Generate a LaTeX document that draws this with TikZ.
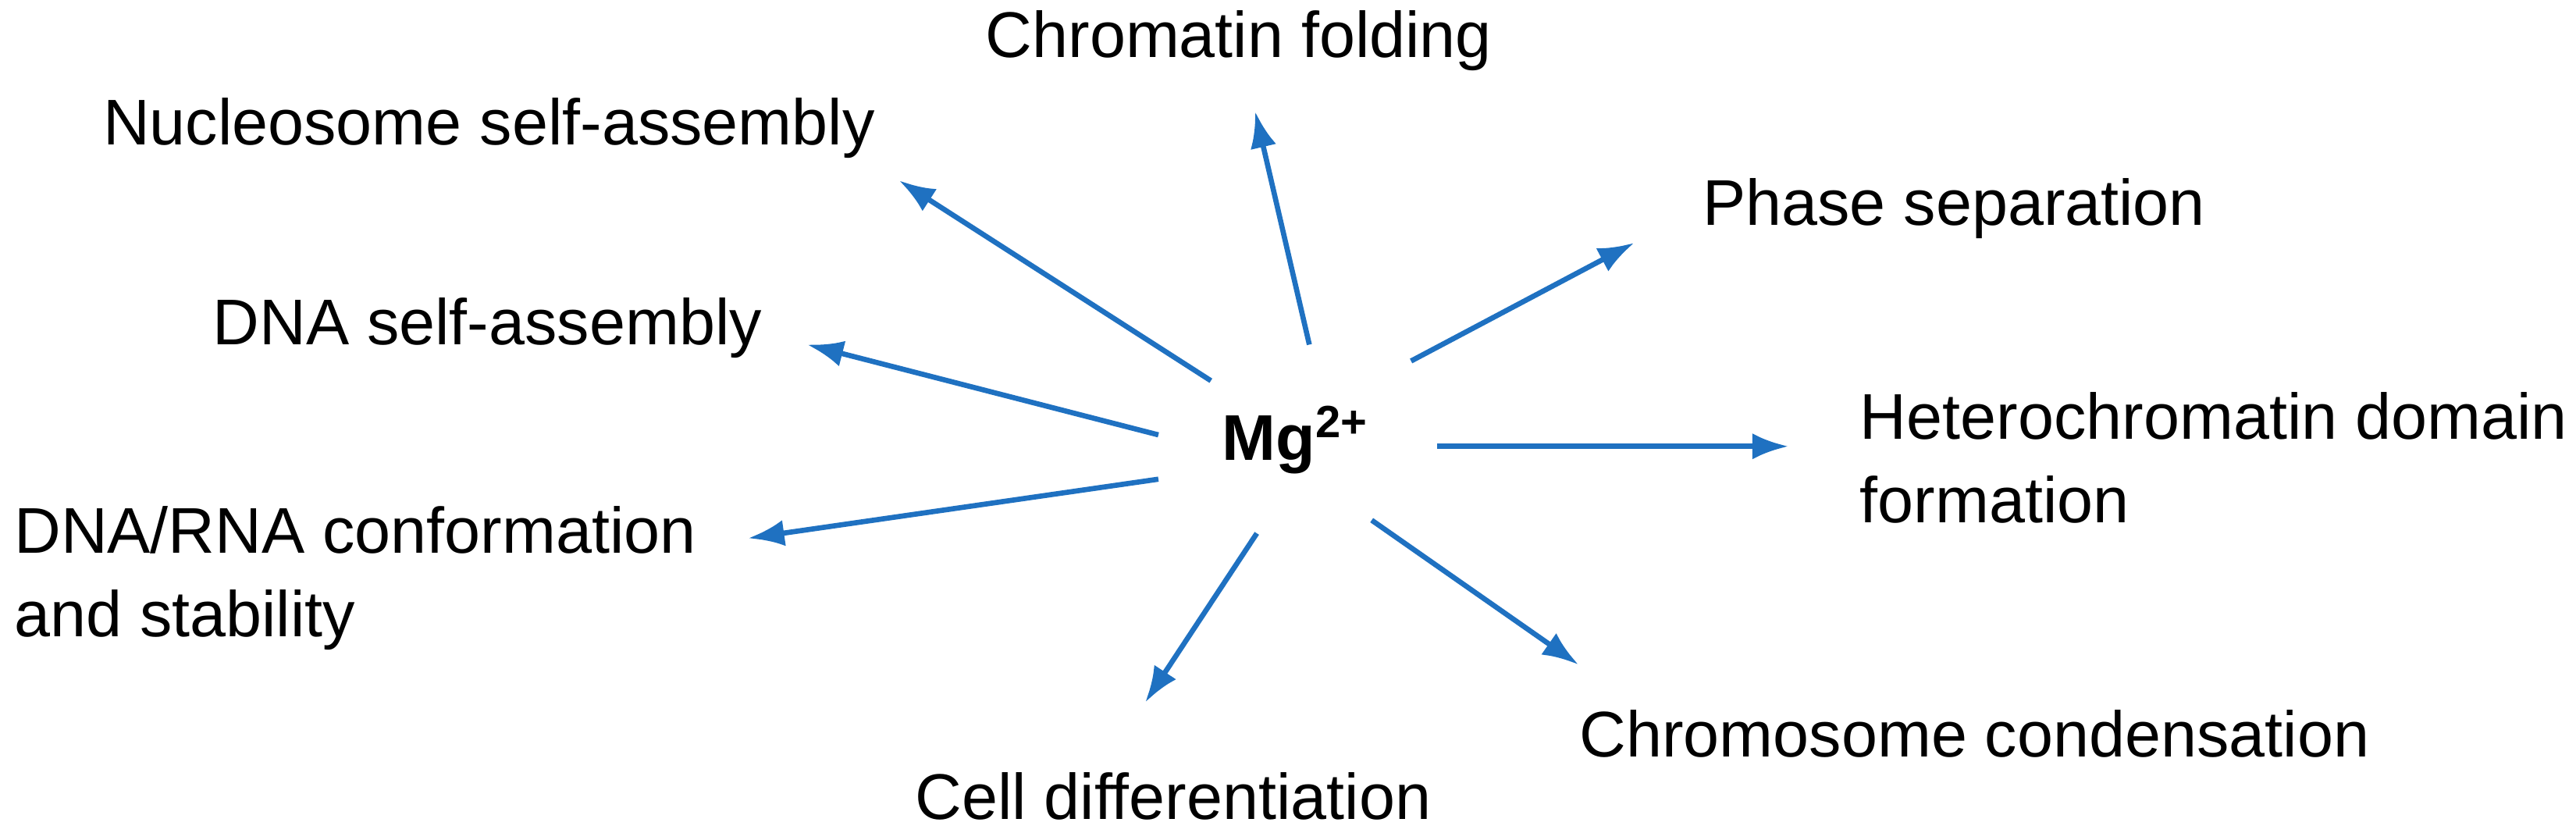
\documentclass[tikz,border=0pt]{standalone}
\usepackage{fontspec}
\setmainfont{Liberation Sans}
\usetikzlibrary{arrows.meta}
\definecolor{arrowblue}{RGB}{31,113,193}
\begin{document}
\begin{tikzpicture}[font=\fontsize{11.2}{14.5}\selectfont,
	effect/.style={draw=arrowblue,line width=0.9pt,-{Latex[length=2.2mm,width=1.6mm]}},
	lbl/.style={inner sep=0pt,align=left}]
	\useasboundingbox (0,0) rectangle (15.7,5.076);

	\node[inner sep=0pt] (mg) at (7.9,2.396) {\textbf{Mg\textsuperscript{2+}}};

	\node[lbl] (fold) at (7.55,4.826) {Chromatin folding};
	\node[lbl] (nucl) at (2.98,4.296) {Nucleosome self-assembly};
	\node[lbl,anchor=west] (phase) at (10.37,3.806) {Phase separation};
	\node[lbl] (dnaself) at (2.97,3.076) {DNA self-assembly};
	\node[lbl,anchor=west] (hetero) at (11.33,2.286) {Heterochromatin domain\\formation};
	\node[lbl,anchor=west] (dnarna) at (0.08,1.551) {DNA/RNA conformation\\and stability};
	\node[lbl] (cell) at (7.15,0.226) {Cell differentiation};
	\node[lbl,anchor=west] (chromo) at (9.62,0.606) {Chromosome condensation};

	% arrow ends around the ion
	\foreach \n/\sx/\sy/\ex/\ey in {
		fold/7.98/2.976/7.65/4.396,
		nucl/7.38/2.756/5.48/3.976,
		phase/8.60/2.876/9.96/3.596,
		dnaself/7.06/2.426/4.92/2.976,
		hetero/8.76/2.356/10.90/2.356,
		dnarna/7.06/2.156/4.56/1.796,
		cell/7.66/1.826/6.98/0.796,
		chromo/8.36/1.906/9.62/1.026} {
		\coordinate (\n-s) at (\sx,\sy);
		\coordinate (\n-e) at (\ex,\ey);
		\draw[effect] (\n-s) -- (\n-e);
	}
\end{tikzpicture}
\end{document}
